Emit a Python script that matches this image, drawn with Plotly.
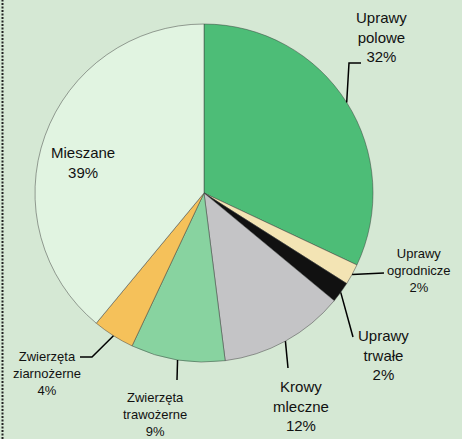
import math
import plotly.graph_objects as go

labels = ["Uprawy polowe", "Uprawy ogrodnicze", "Uprawy trwałe", "Krowy mleczne",
          "Zwierzęta trawożerne", "Zwierzęta ziarnożerne", "Mieszane"]
label_text = ["Uprawy<br>polowe<br>32%", "Uprawy<br>ogrodnicze<br>2%", "Uprawy<br>trwałe<br>2%",
              "Krowy<br>mleczne<br>12%", "Zwierzęta<br>trawożerne<br>9%",
              "Zwierzęta<br>ziarnożerne<br>4%", "Mieszane<br>39%"]
values = [32, 2, 2, 12, 9, 4, 39]
colors = ["#4DBD77", "#F3E4B4", "#111111", "#C4C4C6", "#88D3A0", "#F5C15A", "#E1F4E1"]

W, H = 462, 439
cx, cy, r = 204, 193, 169
BG = "#D5E8D4"

def px(x):
    return x / W

def py(y):
    return 1 - y / H

fig = go.Figure(go.Pie(
    labels=labels, values=values, sort=False, direction="clockwise", rotation=0,
    marker=dict(colors=colors, line=dict(color="rgba(60,60,60,0.6)", width=0.8)),
    textinfo="none", hoverinfo="label+percent", showlegend=False,
    domain=dict(x=[px(cx - r), px(cx + r)], y=[py(cy + r), py(cy - r)]),
))

# label layout: (text center x, text center y, font size, leader path after edge point)
layout_pos = [
    (381, 37, 15, [(349, 63), (361, 63)]),
    (419, 270, 13, [(384, 273)]),
    (383, 355, 15, [(353, 337)]),
    (301, 406, 15, [(288, 368)]),
    (155, 414, 13, [(177, 380)]),
    (47, 373, 13, [(92, 357), (80, 357)]),
    (83, 163, 15, None),
]

total = sum(values)
cum = 0
shapes = []
annotations = []
for v, t, (lx, ly, fs, path) in zip(values, label_text, layout_pos):
    mid = 2 * math.pi * (cum + v / 2) / total
    cum += v
    ex = cx + r * math.sin(mid)
    ey = cy - r * math.cos(mid)
    if path is not None:
        pts = [(ex, ey)] + path
        d = "M " + " L ".join(f"{px(a):.5f},{py(b):.5f}" for a, b in pts)
        shapes.append(dict(type="path", path=d, xref="paper", yref="paper",
                           line=dict(color="black", width=1.5)))
    annotations.append(dict(text=t, x=px(lx), y=py(ly), xref="paper", yref="paper",
                            showarrow=False, xanchor="center", yanchor="middle",
                            font=dict(family="Liberation Sans, Arial", size=fs, color="#111")))

# dotted left border
shapes.append(dict(type="line", xref="paper", yref="paper", x0=px(2.5), x1=px(2.5), y0=0, y1=1,
                   line=dict(color="#222", width=2, dash="2px,1.5px")))

fig.update_layout(
    width=W, height=H, margin=dict(l=0, r=0, t=0, b=0),
    paper_bgcolor=BG, plot_bgcolor=BG,
    shapes=shapes, annotations=annotations,
)
fig.write_html("out.html", config={"displayModeBar": False},
               post_script="document.body.style.margin='0';document.body.style.overflow='hidden';")
